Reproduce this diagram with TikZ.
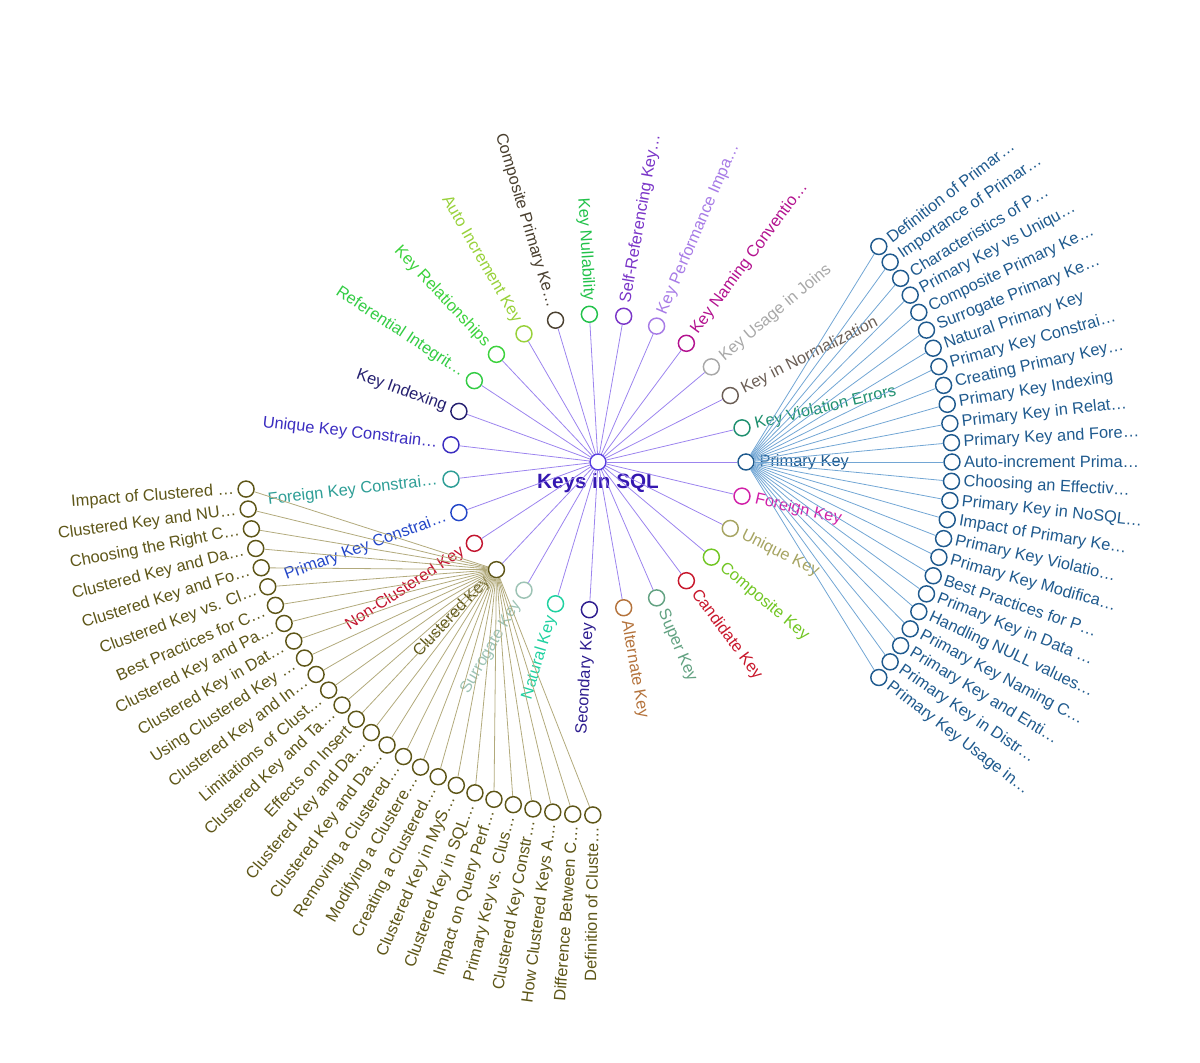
\documentclass[tikz,border=0pt]{standalone}
\usepackage{fontspec}
\setmainfont{Liberation Sans}
\usepackage{xcolor}

% centre and spokes
\definecolor{rootink}{HTML}{3417B0}
\definecolor{rootring}{HTML}{5A3FE0}
\definecolor{rootspoke}{HTML}{9C84EE}
% first ring
\definecolor{pkeyc}{HTML}{1F5A8E}
\definecolor{pkspoke}{HTML}{72A6D4}
\definecolor{violationc}{HTML}{1E8F6E}
\definecolor{normalc}{HTML}{6B5E55}
\definecolor{joinsc}{HTML}{A8A8A8}
\definecolor{namingc}{HTML}{B3128F}
\definecolor{perfc}{HTML}{A77BE6}
\definecolor{selfrefc}{HTML}{7A35C8}
\definecolor{nullabc}{HTML}{22C24A}
\definecolor{comppkc}{HTML}{4A4030}
\definecolor{autoincc}{HTML}{98D13A}
\definecolor{relatc}{HTML}{3CD23C}
\definecolor{refintc}{HTML}{33CC44}
\definecolor{indexingc}{HTML}{252070}
\definecolor{uniqconc}{HTML}{3B2DC0}
\definecolor{fkconc}{HTML}{2E9E96}
\definecolor{pkconc}{HTML}{2447C8}
\definecolor{nonclustc}{HTML}{C2142E}
\definecolor{clustc}{HTML}{5E5618}
\definecolor{clspoke}{HTML}{B2AA7C}
\definecolor{surrogatec}{HTML}{9DC3B5}
\definecolor{naturalc}{HTML}{1FD1A0}
\definecolor{secondaryc}{HTML}{2E1D8F}
\definecolor{alternatec}{HTML}{B4733C}
\definecolor{superc}{HTML}{63A282}
\definecolor{candidatec}{HTML}{C8182C}
\definecolor{compositec}{HTML}{72C624}
\definecolor{uniquec}{HTML}{A6A462}
\definecolor{foreignc}{HTML}{D11FA8}

\begin{document}
\begin{tikzpicture}[
    x=0.75pt, y=0.75pt,
    dot/.style={
        circle,
        draw=#1,
        fill=white,
        line width=1.1pt,
        minimum size=12pt,
        inner sep=0pt
    },
    lbl/.style={
        font=\fontsize{12.3}{14}\selectfont,
        text=#1,
        inner sep=1pt
    },
    spoke/.style={
        draw=#1,
        line width=0.6pt
    }
]
\useasboundingbox (-598,-601) rectangle (602,462);

% Centre
\node (root) [dot=rootring] at (0,0) {};
\node (title) [font=\bfseries\fontsize{15.5}{18}\selectfont, text=rootink] at (0,-21) {Keys in SQL};

% First ring
\foreach \k/\nm/\txt in {
    0/pkey/Primary Key, 1/violation/Key Violation Errors, 2/normal/Key in Normalization,
    3/joins/Key Usage in Joins, 4/naming/Key Naming Conventio…, 5/perf/Key Performance Impa…,
    6/selfref/Self-Referencing Key…, 7/nullab/Key Nullability, 8/comppk/Composite Primary Ke…,
    9/autoinc/Auto Increment Key, 10/relat/Key Relationships, 11/refint/Referential Integrit…,
    12/indexing/Key Indexing, 13/uniqcon/Unique Key Constrain…, 14/fkcon/Foreign Key Constrai…,
    15/pkcon/Primary Key Constrai…, 16/nonclust/Non-Clustered Key, 17/clust/Clustered Key,
    18/surrogate/Surrogate Key, 19/natural/Natural Key, 20/secondary/Secondary Key,
    21/alternate/Alternate Key, 22/super/Super Key, 23/candidate/Candidate Key,
    24/composite/Composite Key, 25/unique/Unique Key, 26/foreign/Foreign Key} {
    \pgfmathsetmacro\ang{\k*360/27}
    \pgfmathtruncatemacro\lft{(\ang>90)&&(\ang<270)}
    \node (\nm) [dot=\nm c] at (\ang:148) {};
    \draw [spoke=rootspoke] (root) -- (\nm);
    \ifnum\lft=1
        \node (\nm-l) [lbl=\nm c, anchor=east, rotate=\ang-180] at (\ang:160) {\txt};
    \else
        \node (\nm-l) [lbl=\nm c, anchor=west, rotate=\ang] at (\ang:160) {\txt};
    \fi
}

% Primary Key leaves
\foreach \txt [count=\j from 0] in {
    Definition of Primar…, Importance of Primar…, Characteristics of P…,
    Primary Key vs Uniqu…, Composite Primary Ke…, Surrogate Primary Ke…,
    Natural Primary Key, Primary Key Constrai…, Creating Primary Key…,
    Primary Key Indexing, Primary Key in Relat…, Primary Key and Fore…,
    Auto-increment Prima…, Choosing an Effectiv…, Primary Key in NoSQL…,
    Impact of Primary Ke…, Primary Key Violatio…, Primary Key Modifica…,
    Best Practices for P…, Primary Key in Data …, Handling NULL values…,
    Primary Key Naming C…, Primary Key and Enti…, Primary Key in Distr…,
    Primary Key Usage in…} {
    \pgfmathsetmacro\ang{37.5-\j*3.125}
    \node (pk\j) [dot=pkeyc] at (\ang:354) {};
    \draw [spoke=pkspoke] (pkey) -- (pk\j);
    \node (pk\j-l) [lbl=pkeyc, anchor=west, rotate=\ang] at (\ang:364.5) {\txt};
}

% Clustered Key leaves
\foreach \txt [count=\j from 0] in {
    Impact of Clustered …, Clustered Key and NU…, Choosing the Right C…,
    Clustered Key and Da…, Clustered Key and Fo…, Clustered Key vs. Cl…,
    Best Practices for C…, Clustered Key and Pa…, Clustered Key in Dat…,
    Using Clustered Key …, Clustered Key and In…, Limitations of Clust…,
    Clustered Key and Ta…, Effects on Insert, Clustered Key and Da…,
    Clustered Key and Da…, Removing a Clustered…, Modifying a Clustere…,
    Creating a Clustered…, Clustered Key in MyS…, Clustered Key in SQL…,
    Impact on Query Perf…, Primary Key vs. Clus…, Clustered Key Constr…,
    How Clustered Keys A…, Difference Between C…, Definition of Cluste…} {
    \pgfmathsetmacro\ang{184.4+\j*3.26}
    \node (cl\j) [dot=clustc] at (\ang:353) {};
    \draw [spoke=clspoke] (clust) -- (cl\j);
    \node (cl\j-l) [lbl=clustc, anchor=east, rotate=\ang-180] at (\ang:363.5) {\txt};
}

\end{tikzpicture}
\end{document}
